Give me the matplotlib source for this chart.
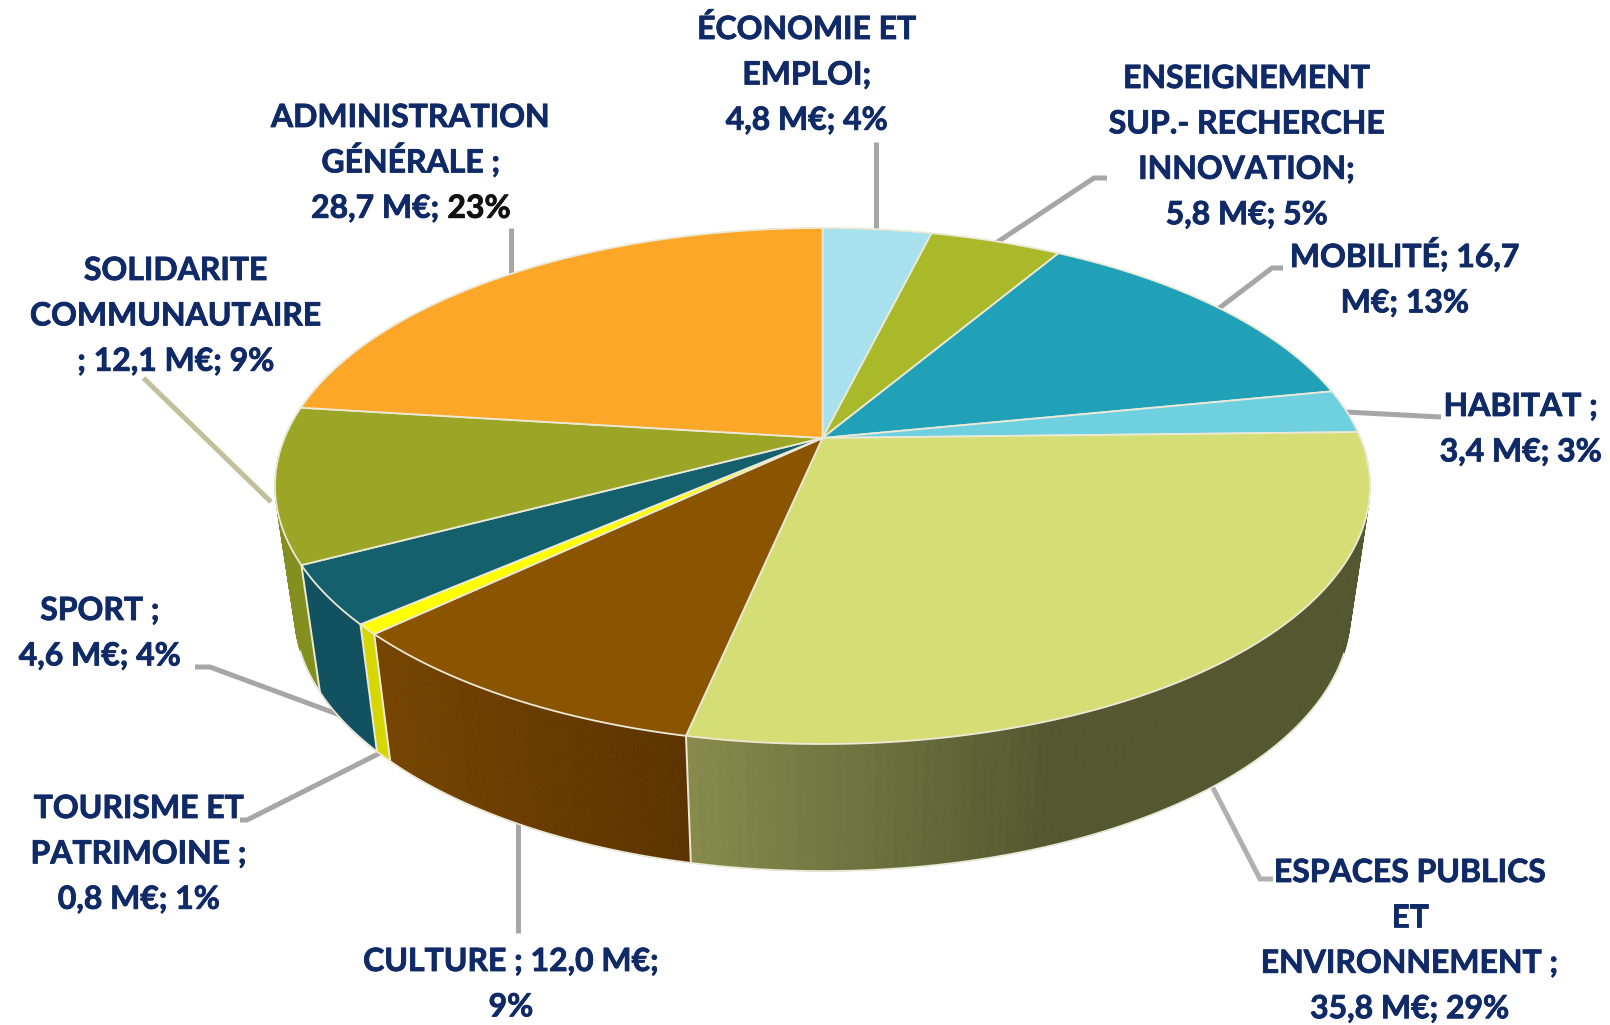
import numpy as np
import matplotlib
matplotlib.use("Agg")
import matplotlib.pyplot as plt
import matplotlib.patheffects as pe
from matplotlib.collections import PolyCollection
from matplotlib.colors import to_rgb

# Data, clockwise from 12 o'clock
values = [4.8, 5.8, 16.7, 3.4, 35.8, 12.0, 0.8, 4.6, 12.1, 28.7]
top_colors = ["#a6e1ed", "#aab92a", "#21a1b8", "#6fd1e0", "#d5dd75",
              "#8b5400", "#ffff00", "#14606c", "#9ba526", "#fca728"]
side_left = ["#a6e1ed", "#aab92a", "#21a1b8", "#6fd1e0", "#878c4d",
             "#764400", "#d6d600", "#125260", "#839020", "#fca728"]
side_right = ["#a6e1ed", "#aab92a", "#21a1b8", "#6fd1e0", "#535830",
              "#5c3300", "#d6d600", "#125260", "#839020", "#fca728"]

label_lines = [
    ["ÉCONOMIE ET", "EMPLOI;", "4,8 M€; 4%"],
    ["ENSEIGNEMENT", "SUP.- RECHERCHE", "INNOVATION;", "5,8 M€; 5%"],
    ["MOBILITÉ; 16,7", "M€; 13%"],
    ["HABITAT ;", "3,4 M€; 3%"],
    ["ESPACES PUBLICS", "ET", "ENVIRONNEMENT ;", "35,8 M€; 29%"],
    ["CULTURE ; 12,0 M€;", "9%"],
    ["TOURISME ET", "PATRIMOINE ;", "0,8 M€; 1%"],
    ["SPORT ;", "4,6 M€; 4%"],
    ["SOLIDARITE", "COMMUNAUTAIRE", "; 12,1 M€; 9%"],
    ["ADMINISTRATION", "GÉNÉRALE ;", "28,7 M€; "],
]
label_x = [807, 1247, 1405, 1521, 1410, 511, 139, 100, 176, 411]
label_y = [39, 88, 267, 416, 882, 971, 818, 620, 280, 127]

# Leader lines (pixels)
leaders = [
    ([876, 876], [142, 230], "#a6a6a6"),
    ([1107, 1094, 996], [178, 178, 243], "#a6a6a6"),
    ([1283, 1272, 1218], [268, 268, 309], "#a6a6a6"),
    ([1441, 1345], [417, 412], "#a6a6a6"),
    ([1212, 1260, 1273], [786, 879, 879], "#b0b0b0"),
    ([518, 518], [822, 933], "#a6a6a6"),
    ([382, 247, 240], [752, 820, 820], "#a6a6a6"),
    ([195, 210, 340], [667, 667, 715], "#a6a6a6"),
    ([143.5, 271], [378, 502], "#c4bf9a"),
    ([511, 511], [228, 275], "#a6a6a6"),
]

# Tilted disc geometry
CX, CY, A, B = 822.5, 486, 547.5, 258
CY2, A2, B2 = 613, 528, 258
APEX = (438 - CY) / B
EDGE = "#ece9d8"
NAVY = "#0f2a66"


def rim(theta, cy, a, b):
    # perspective: circle centre lands on the apex, not the ellipse centre
    x = np.sin(theta)
    y = -np.cos(theta)
    d = 1 + APEX * y
    px = x * np.sqrt(1 - APEX ** 2) / d
    py = (y + APEX) / d
    return CX + a * px, cy + b * py


plt.rcParams["font.family"] = ["Lato", "DejaVu Sans"]
fig = plt.figure(figsize=(16.1, 10.25), dpi=100)
ax = fig.add_axes([0, 0, 1, 1])
ax.set_xlim(0, 1610)
ax.set_ylim(1025, 0)
ax.axis("off")

for lx, ly, c in leaders:
    ax.plot(lx, ly, color=c, lw=3.6, solid_joinstyle="miter",
            solid_capstyle="butt", zorder=1)

bounds = np.concatenate([[0], np.cumsum(values)]) / sum(values) * 2 * np.pi
x_grad_end = 1057

# Side walls
for i in range(4, len(values)):
    t = np.linspace(bounds[i], bounds[i + 1], 120)
    x1, y1 = rim(t, CY, A, B)
    x2, y2 = rim(t, CY2, A2, B2)
    quads, cols = [], []
    c0 = np.array(to_rgb(side_left[i]))
    c1 = np.array(to_rgb(side_right[i]))
    x_start, x_stop = x1.min(), x1.max()
    for k in range(len(t) - 1):
        quads.append([(x1[k], y1[k]), (x1[k + 1], y1[k + 1]),
                      (x2[k + 1], y2[k + 1]), (x2[k], y2[k])])
        if i == 4:
            # espaces publics runs right to left around the front
            f = np.clip((x1[k] - x1[-1]) / (x_grad_end - x1[-1]), 0, 1)
        else:
            f = np.clip((x1[k] - x_start) / max(x_stop - x_start, 1), 0, 1)
        cols.append(c0 + (c1 - c0) * f)
    ax.add_collection(PolyCollection(quads, facecolors=cols, edgecolors=cols,
                                     linewidths=0.6, zorder=2))
    # bottom outline (visible front part only) and separators
    front = y2 > 650
    if front.any():
        ax.plot(x2[front], y2[front], color=EDGE, lw=1.2, zorder=3)
    if i > 4:
        ax.plot([x1[0], x2[0]], [y1[0], y2[0]], color=EDGE, lw=1.4, zorder=3)

# Top face
for i in range(len(values)):
    t = np.linspace(bounds[i], bounds[i + 1], 200)
    xr, yr = rim(t, CY, A, B)
    ax.fill(np.r_[CX, xr], np.r_[CY + APEX * B, yr], facecolor=top_colors[i],
            edgecolor=EDGE, lw=1.3, joinstyle="round", zorder=4)

# Labels
renderer = fig.canvas.get_renderer()
font = dict(fontsize=23, fontweight="bold", va="baseline", zorder=5)


def text_width(s):
    tmp = ax.text(0, 0, s, **font)
    w = tmp.get_window_extent(renderer).width
    tmp.remove()
    return w


def heavy(txt, col):
    # the original text is a bit fatter than Lato Bold
    txt.set_path_effects([pe.withStroke(linewidth=0.6, foreground=col)])


for lines, x, y in zip(label_lines, label_x, label_y):
    for n, line in enumerate(lines):
        yy = y + n * 45.4
        if line.endswith("; "):
            # last part of this label is black in the original
            whole = line + "23%"
            left = x - text_width(whole) / 2
            heavy(ax.text(left, yy, line.rstrip(), ha="left", color=NAVY, **font), NAVY)
            heavy(ax.text(left + text_width(whole) - text_width("23%"), yy, "23%",
                          ha="left", color="#111111", **font), "#111111")
        else:
            heavy(ax.text(x, yy, line, ha="center", color=NAVY, **font), NAVY)

fig.savefig("out.png", dpi=100, facecolor="white")
